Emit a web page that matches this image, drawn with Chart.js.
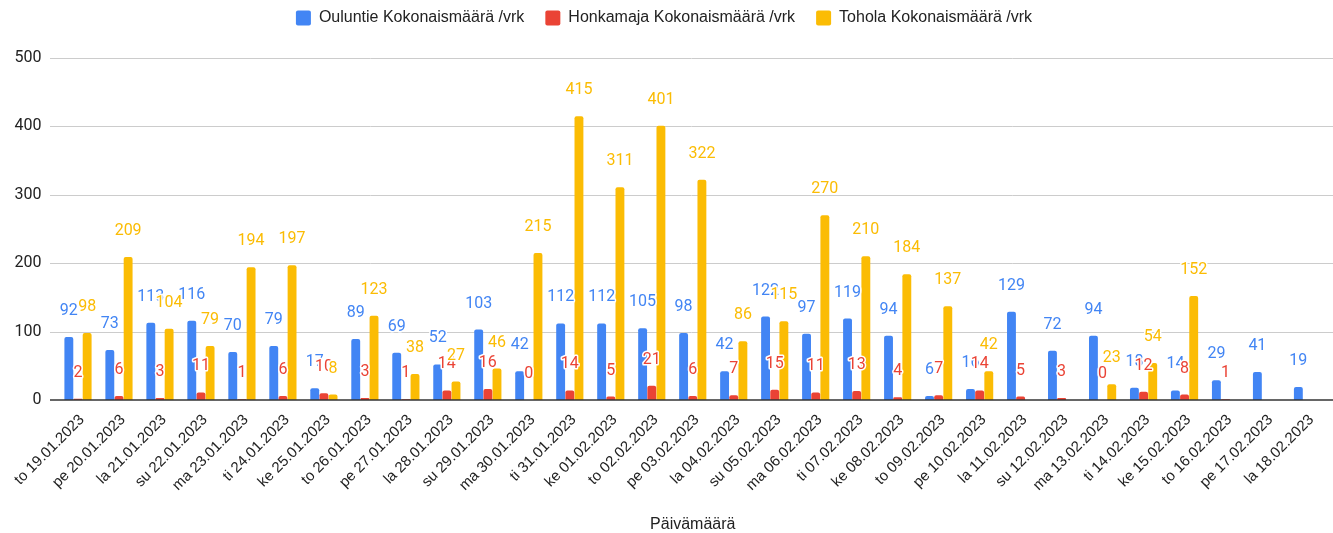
<!DOCTYPE html>
<html>
<head>
<meta charset="utf-8">
<script src="https://cdn.jsdelivr.net/npm/chart.js@4/dist/chart.umd.min.js"></script>
<style>
  html, body { margin: 0; padding: 0; background: #fff; }
  #wrap { width: 1333px; height: 533px; position: relative; }
</style>
</head>
<body>
<div id="wrap"><canvas id="chart"></canvas></div>
<script>
const dates = [
  'to 19.01.2023', 'pe 20.01.2023', 'la 21.01.2023', 'su 22.01.2023', 'ma 23.01.2023',
  'ti 24.01.2023', 'ke 25.01.2023', 'to 26.01.2023', 'pe 27.01.2023', 'la 28.01.2023',
  'su 29.01.2023', 'ma 30.01.2023', 'ti 31.01.2023', 'ke 01.02.2023', 'to 02.02.2023',
  'pe 03.02.2023', 'la 04.02.2023', 'su 05.02.2023', 'ma 06.02.2023', 'ti 07.02.2023',
  'ke 08.02.2023', 'to 09.02.2023', 'pe 10.02.2023', 'la 11.02.2023', 'su 12.02.2023',
  'ma 13.02.2023', 'ti 14.02.2023', 'ke 15.02.2023', 'to 16.02.2023', 'pe 17.02.2023',
  'la 18.02.2023',
];
const ouluntie = [92, 73, 113, 116, 70, 79, 17, 89, 69, 52, 103, 42, 112, 112, 105, 98, 42,
  122, 97, 119, 94, 6, 16, 129, 72, 94, 18, 14, 29, 41, 19];
const honkamaja = [2, 6, 3, 11, 1, 6, 10, 3, 1, 14, 16, 0, 14, 5, 21, 6, 7, 15, 11, 13, 4,
  7, 14, 5, 3, 0, 12, 8, 1, null, null];
const tohola = [98, 209, 104, 79, 194, 197, 8, 123, 38, 27, 46, 215, 415, 311, 401, 322, 86,
  115, 270, 210, 184, 137, 42, null, null, 23, 54, 152, null, null, null];
const yMax = 500;
const yStep = 100;

const BLUE = '#4285F4';
const RED = '#EA4335';
const YELLOW = '#FBBC04';

// gridlines run past the category area like in Sheets, plus value labels over the bars
const sheetsLook = {
  id: 'sheetsLook',
  afterLayout(chart) {
    // keep the legend near the top edge, the plot starts lower
    const lg = chart.legend;
    const shift = lg.top + 11;
    lg.top -= shift;
    lg.bottom -= shift;
  },
  beforeDatasetsDraw(chart) {
    const { ctx } = chart;
    const y = chart.scales.y;
    ctx.save();
    ctx.strokeStyle = '#cccccc';
    ctx.lineWidth = 1;
    y.ticks.forEach((t) => {
      if (t.value === 0) return;
      const py = Math.round(y.getPixelForValue(t.value)) + 0.5;
      ctx.beginPath();
      ctx.moveTo(50, py);
      ctx.lineTo(chart.width, py);
      ctx.stroke();
    });
    ctx.restore();
  },
  afterDatasetsDraw(chart) {
    const { ctx } = chart;
    const y = chart.scales.y;
    ctx.save();
    const py0 = y.getPixelForValue(0);
    ctx.strokeStyle = '#333333';
    ctx.lineWidth = 1.5;
    ctx.beginPath();
    ctx.moveTo(50, py0);
    ctx.lineTo(chart.width, py0);
    ctx.stroke();

    ctx.font = '16px Roboto';
    ctx.textAlign = 'center';
    ctx.textBaseline = 'middle';
    ctx.lineJoin = 'round';
    chart.data.datasets.forEach((ds, di) => {
      const meta = chart.getDatasetMeta(di);
      meta.data.forEach((bar, i) => {
        const v = ds.data[i];
        if (v === null || v === undefined) return;
        const ty = bar.y - 26;
        ctx.strokeStyle = '#ffffff';
        ctx.lineWidth = 3;
        ctx.strokeText(String(v), bar.x, ty);
        ctx.fillStyle = ds.backgroundColor;
        ctx.fillText(String(v), bar.x, ty);
      });
    });
    ctx.restore();
  },
};

const barStyle = {
  categoryPercentage: 0.67,
  barPercentage: 0.97,
  borderRadius: { topLeft: 2, topRight: 2 },
  borderSkipped: 'start',
};

new Chart(document.getElementById('chart'), {
  type: 'bar',
  data: {
    labels: dates,
    datasets: [
      { label: 'Ouluntie Kokonaismäärä /vrk', data: ouluntie, backgroundColor: BLUE, ...barStyle },
      { label: 'Honkamaja Kokonaismäärä /vrk', data: honkamaja, backgroundColor: RED, ...barStyle },
      { label: 'Tohola Kokonaismäärä /vrk', data: tohola, backgroundColor: YELLOW, ...barStyle },
    ],
  },
  options: {
    responsive: true,
    maintainAspectRatio: false,
    animation: false,
    layout: { padding: { top: 0, left: 0, right: 5, bottom: 0 } },
    plugins: {
      tooltip: { enabled: false },
      legend: {
        position: 'top',
        align: 'center',
        labels: {
          boxWidth: 15,
          boxHeight: 15,
          useBorderRadius: true,
          borderRadius: 2,
          padding: 21,
          color: '#222222',
          font: { family: "'Liberation Sans', Arial", size: 16 },
        },
      },
    },
    scales: {
      x: {
        grid: { display: false },
        border: { display: false },
        ticks: {
          autoSkip: false,
          maxRotation: 45,
          minRotation: 45,
          padding: 3,
          labelOffset: 4,
          color: '#222222',
          font: { family: "'Liberation Sans', Arial", size: 15 },
        },
        title: {
          display: true,
          text: 'Päivämäärä',
          color: '#222222',
          font: { family: "'Liberation Sans', Arial", size: 16, lineHeight: 1 },
          padding: { top: 0, bottom: 0 },
        },
        afterFit(scale) {
          scale.height = 133;
          scale.paddingLeft = 0;
          scale.paddingRight = 0;
        },
      },
      y: {
        min: 0,
        max: yMax,
        grid: { display: false, drawTicks: false },
        border: { display: false },
        ticks: {
          stepSize: yStep,
          padding: 16,
          color: '#222222',
          font: { family: 'Roboto', size: 16 },
        },
        afterFit(scale) {
          scale.width = 57.5;
          scale.paddingTop = 58;
        },
      },
    },
  },
  plugins: [sheetsLook],
});
</script>
</body>
</html>
